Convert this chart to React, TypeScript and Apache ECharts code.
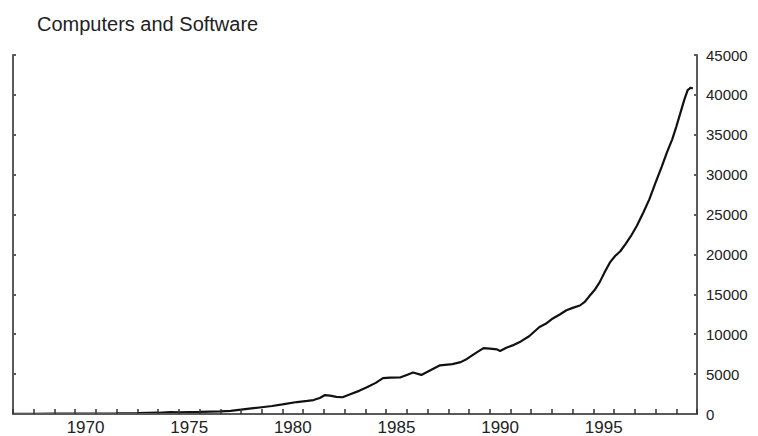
import React, { useEffect, useRef } from "react";
import * as echarts from "echarts";

// Calendar years shown as category slots along the bottom axis
const yearSlots: string[] = Array.from({ length: 33 }, (_, i) => String(1967 + i));

// Sample dates (decimal years) and shipments level, Computers and Software
const sampleYears: number[] = [
  1967, 1968, 1969, 1970, 1971, 1972, 1973, 1974, 1974.6, 1975, 1976, 1977,
  1977.5, 1978, 1978.5, 1979, 1979.5, 1980, 1980.7, 1981.2, 1981.5, 1981.8,
  1982.05, 1982.3, 1982.6, 1982.9, 1983.3, 1983.7, 1984.1, 1984.5, 1984.85,
  1985.2, 1985.7, 1986.0, 1986.3, 1986.7, 1987.0, 1987.3, 1987.6, 1988.2,
  1988.6, 1988.9, 1989.3, 1989.7, 1990.0, 1990.35, 1990.5, 1990.8, 1991.1,
  1991.5, 1991.9, 1992.4, 1992.7, 1993.0, 1993.4, 1993.7, 1994.0, 1994.35,
  1994.6, 1994.8, 1995.05, 1995.3, 1995.55, 1995.8, 1996.05, 1996.3, 1996.55,
  1996.8, 1997.1, 1997.4, 1997.7, 1998.0, 1998.3, 1998.55, 1998.8, 1999.0,
  1999.2, 1999.4, 1999.55, 1999.7, 1999.8,
];
const sampleValues: number[] = [
  20, 30, 40, 50, 60, 80, 110, 160, 250, 220, 260, 330,
  400, 550, 700, 850, 1000, 1200, 1500, 1650, 1750, 2000,
  2375, 2300, 2150, 2100, 2500, 2900, 3375, 3900, 4500,
  4550, 4600, 4900, 5200, 4900, 5300, 5700, 6100, 6250,
  6500, 6900, 7600, 8250, 8200, 8100, 7900, 8300, 8600,
  9100, 9750, 10900, 11300, 11900, 12500, 13000, 13300, 13600,
  14100, 14750, 15500, 16500, 17800, 19000, 19800, 20400, 21300,
  22250, 23600, 25200, 26900, 29000, 31000, 32800, 34400, 36000,
  37750, 39500, 40600, 40900, 40800,
];

const chartTitle = "Computers and Software";

const axisGray = "#5a5a5a";
const textColor = "#222";
const fontFamily = "'Liberation Sans', Arial, sans-serif";

export default function App() {
  const ref = useRef<HTMLDivElement>(null);

  useEffect(() => {
    if (!ref.current) return;
    const chart = echarts.init(ref.current, undefined, { renderer: "svg" });
    const valueAxisBase = {
      type: "value" as const,
      min: 0,
      max: 45000,
      interval: 5000,
      splitLine: { show: false },
      axisLine: { show: true, lineStyle: { color: axisGray, width: 2 } },
      axisTick: { show: true, inside: true, length: 3, lineStyle: { color: axisGray, width: 2 } },
    };
    chart.setOption({
      animation: false,
      backgroundColor: "#fff",
      title: {
        text: chartTitle,
        left: 32,
        top: 9,
        textStyle: { fontFamily, fontSize: 20, fontWeight: "normal", color: textColor },
      },
      grid: { left: 13, right: 61, top: 55, bottom: 21, containLabel: false },
      xAxis: [
        {
          type: "category",
          data: yearSlots,
          boundaryGap: true,
          position: "bottom",
          axisLine: { show: true, lineStyle: { color: axisGray, width: 2 } },
          axisTick: {
            show: true,
            inside: true,
            length: 5,
            interval: 0,
            lineStyle: { color: "#333", width: 1.5 },
          },
          axisLabel: {
            interval: (_i: number, v: string) => Number(v) % 5 === 0,
            fontFamily,
            fontSize: 17,
            color: textColor,
            margin: 5,
          },
          splitLine: { show: false },
          z: 5,
        },
        {
          type: "value",
          min: 1967,
          max: 2000,
          show: false,
        },
      ],
      yAxis: [
        {
          ...valueAxisBase,
          position: "right",
          axisLabel: {
            fontFamily,
            fontSize: 15,
            color: textColor,
            margin: 9,
            formatter: (v: number) => String(v),
          },
        },
        {
          ...valueAxisBase,
          position: "left",
          axisLabel: { show: false },
        },
      ],
      series: [
        {
          type: "line",
          xAxisIndex: 1,
          yAxisIndex: 0,
          data: sampleYears.map((y, i) => [y, sampleValues[i]]),
          showSymbol: false,
          lineStyle: { color: "#111", width: 2.2 },
        },
      ],
    });
    return () => chart.dispose();
  }, []);

  return (
    <div
      ref={ref}
      style={{ position: "fixed", left: 0, top: 0, width: 758, height: 436, background: "#fff" }}
    />
  );
}
